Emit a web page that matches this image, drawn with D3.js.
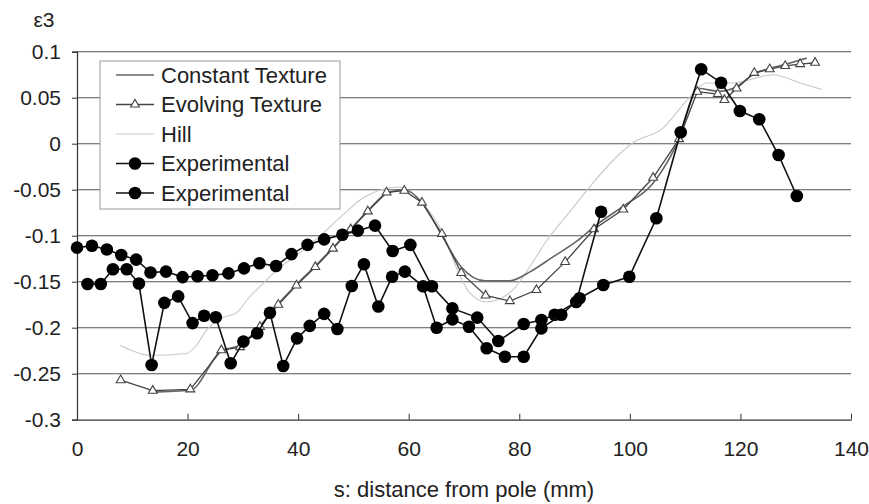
<!DOCTYPE html>
<html>
<head>
<meta charset="utf-8">
<script src="https://cdn.jsdelivr.net/npm/d3@7"></script>
<style>
  body { margin: 0; background: #fff; }
  svg { display: block; font-family: "Liberation Sans", Arial, sans-serif; }
</style>
</head>
<body>
<div class="container"></div>
<script>
// ===== DATA =====
var yTicks = [0.1, 0.05, 0, -0.05, -0.1, -0.15, -0.2, -0.25, -0.3];
var xTicks = [0, 20, 40, 60, 80, 100, 120, 140];
var seriesNames = ["Constant Texture", "Evolving Texture", "Hill", "Experimental", "Experimental"];

var constantS = [13.6, 20.5, 26.1, 29.5, 33.1, 36.4, 39.7, 43.1, 46.3, 49.5, 52.6, 56.0, 59.2, 62.4, 66.0, 69.5, 73.8, 78.3, 82.0, 86.1, 90.4, 94.0, 98.8, 104.2, 108.2, 112.5, 116.0, 119.3, 122.5, 125.5, 128.5, 132.0];
var constantE = [-0.270, -0.268, -0.225, -0.219, -0.198, -0.174, -0.153, -0.133, -0.113, -0.093, -0.073, -0.054, -0.050, -0.064, -0.100, -0.134, -0.149, -0.149, -0.139, -0.123, -0.106, -0.088, -0.068, -0.043, -0.004, 0.060, 0.057, 0.062, 0.076, 0.082, 0.087, 0.093];

var evolvingS = [7.9, 13.7, 20.5, 26.1, 29.5, 33.1, 36.4, 39.7, 43.1, 46.3, 49.5, 52.6, 56.0, 59.2, 62.4, 66.0, 69.5, 73.9, 78.3, 83.1, 88.3, 93.5, 98.8, 104.2, 108.9, 112.2, 115.9, 117.1, 119.3, 122.5, 125.3, 128.1, 130.8, 133.5];
var evolvingE = [-0.257, -0.2685, -0.267, -0.2245, -0.221, -0.199, -0.175, -0.154, -0.134, -0.114, -0.093, -0.0735, -0.053, -0.051, -0.064, -0.098, -0.1405, -0.165, -0.171, -0.159, -0.1285, -0.093, -0.0715, -0.037, 0.005, 0.0565, 0.054, 0.0475, 0.060, 0.077, 0.081, 0.0845, 0.0866, 0.088];

var hillS = [7.8, 10.0, 13.2, 19.8, 21.5, 23.4, 26.0, 29.0, 31.0, 34.0, 36.0, 40.0, 44.0, 48.0, 52.0, 55.0, 58.0, 61.0, 63.0, 66.0, 69.0, 71.0, 74.0, 77.0, 79.0, 82.0, 85.0, 89.0, 93.0, 97.0, 100.3, 106.0, 110.6, 113.8, 118.7, 125.9, 130.8, 134.7];
var hillE = [-0.219, -0.225, -0.230, -0.228, -0.220, -0.203, -0.190, -0.183, -0.168, -0.150, -0.138, -0.120, -0.100, -0.078, -0.058, -0.050, -0.047, -0.055, -0.068, -0.095, -0.140, -0.162, -0.172, -0.167, -0.158, -0.133, -0.105, -0.075, -0.045, -0.018, 0.000, 0.017, 0.049, 0.066, 0.066, 0.075, 0.066, 0.059];

var exp1S = [0.0, 2.7, 5.4, 8.0, 10.7, 13.3, 16.1, 19.1, 21.8, 24.5, 27.4, 30.2, 33.0, 36.0, 38.8, 41.7, 44.7, 48.0, 50.8, 53.9, 57.1, 60.3, 64.2, 67.9, 72.4, 76.2, 80.8, 84.0, 86.4, 90.3, 94.8];
var exp1E = [-0.113, -0.111, -0.115, -0.121, -0.126, -0.140, -0.139, -0.145, -0.144, -0.143, -0.141, -0.1355, -0.130, -0.133, -0.120, -0.110, -0.104, -0.099, -0.0945, -0.089, -0.1166, -0.110, -0.155, -0.179, -0.189, -0.2145, -0.196, -0.1916, -0.186, -0.172, -0.074];

var exp2S = [1.9, 4.3, 6.5, 9.0, 11.2, 13.5, 15.8, 18.3, 20.9, 23.0, 25.1, 27.8, 30.1, 32.6, 34.9, 37.3, 39.8, 42.1, 44.7, 47.1, 49.7, 51.9, 54.5, 57.0, 59.3, 62.6, 65.05, 67.9, 70.9, 74.1, 77.4, 80.8, 84.0, 87.6, 90.9, 95.2, 99.9, 104.8, 109.2, 112.9, 116.5, 119.9, 123.4, 126.9, 130.2];
var exp2E = [-0.1525, -0.1525, -0.1365, -0.1365, -0.152, -0.2405, -0.173, -0.166, -0.195, -0.187, -0.1887, -0.2387, -0.215, -0.206, -0.1837, -0.2416, -0.2116, -0.198, -0.185, -0.2014, -0.1547, -0.131, -0.177, -0.1446, -0.139, -0.155, -0.200, -0.191, -0.199, -0.2224, -0.2315, -0.2315, -0.2007, -0.186, -0.168, -0.1536, -0.1446, -0.081, 0.0124, 0.081, 0.0663, 0.0355, 0.0265, -0.0123, -0.0568];

function zip(s, e) { return s.map(function(v, i) { return {s: v, e: e[i]}; }); }

// ===== SET UP CHART =====
var W = 869, H = 504;
var margin = {top: 51.7, right: 18, bottom: 84.3, left: 77},
    width = W - margin.left - margin.right,
    height = H - margin.top - margin.bottom;

var svg = d3.select('.container')
  .append('svg')
  .attr('width', W)
  .attr('height', H);

var g = svg.append('g')
  .attr('transform', 'translate(' + margin.left + ',' + margin.top + ')');

var xScale = d3.scaleLinear().domain([0, 140]).range([0, width]);
var yScale = d3.scaleLinear().domain([-0.3, 0.1]).range([height, 0]);

// gridlines
g.append('g')
  .selectAll('line')
  .data(yTicks.filter(function(d) { return d > -0.3; }))
  .enter().append('line')
  .attr('x1', 0).attr('x2', width)
  .attr('y1', function(d) { return yScale(d); })
  .attr('y2', function(d) { return yScale(d); })
  .attr('stroke', '#555')
  .attr('stroke-width', 1.1);

// y axis
var yAxis = d3.axisLeft(yScale)
  .tickValues(yTicks)
  .tickSize(5)
  .tickPadding(11)
  .tickFormat(function(d) { return d === 0 ? '0' : String(+d.toFixed(2)); });

var yG = g.append('g').call(yAxis);
yG.select('.domain').attr('stroke', '#333').attr('stroke-width', 1.2);
yG.selectAll('.tick line').attr('stroke', '#333');
yG.selectAll('text').style('font-size', '21px').attr('fill', '#222');

// x axis
var xAxis = d3.axisBottom(xScale)
  .tickValues(xTicks)
  .tickSizeInner(-6)
  .tickSizeOuter(0)
  .tickPadding(21);

var xG = g.append('g')
  .attr('transform', 'translate(0,' + height + ')')
  .call(xAxis);
xG.select('.domain').attr('stroke', '#333').attr('stroke-width', 1.2);
xG.selectAll('.tick line').attr('stroke', '#333');
xG.selectAll('text').style('font-size', '21px').attr('fill', '#222');

// ===== LINES =====
var smooth = d3.line()
  .x(function(d) { return xScale(d.s); })
  .y(function(d) { return yScale(d.e); })
  .curve(d3.curveMonotoneX);

var straight = d3.line()
  .x(function(d) { return xScale(d.s); })
  .y(function(d) { return yScale(d.e); });

g.append('path')
  .datum(zip(hillS, hillE))
  .attr('d', smooth)
  .attr('fill', 'none')
  .attr('stroke', '#c8c8c8')
  .attr('stroke-width', 1.1);

g.append('path')
  .datum(zip(constantS, constantE))
  .attr('d', smooth)
  .attr('fill', 'none')
  .attr('stroke', '#666')
  .attr('stroke-width', 1.6);

g.append('path')
  .datum(zip(evolvingS, evolvingE))
  .attr('d', straight)
  .attr('fill', 'none')
  .attr('stroke', '#444')
  .attr('stroke-width', 1.3);

var tri = d3.symbol().type(d3.symbolTriangle).size(34);

g.append('g')
  .selectAll('path')
  .data(zip(evolvingS, evolvingE))
  .enter().append('path')
  .attr('d', tri)
  .attr('transform', function(d) { return 'translate(' + xScale(d.s) + ',' + yScale(d.e) + ')'; })
  .attr('fill', '#fff')
  .attr('stroke', '#444')
  .attr('stroke-width', 1.1);

[zip(exp1S, exp1E), zip(exp2S, exp2E)].forEach(function(data) {
  g.append('path')
    .datum(data)
    .attr('d', straight)
    .attr('fill', 'none')
    .attr('stroke', '#111')
    .attr('stroke-width', 1.6);

  g.append('g')
    .selectAll('circle')
    .data(data)
    .enter().append('circle')
    .attr('cx', function(d) { return xScale(d.s); })
    .attr('cy', function(d) { return yScale(d.e); })
    .attr('r', 6.3)
    .attr('fill', '#000');
});

// ===== LEGEND =====
var legend = svg.append('g').attr('transform', 'translate(100,61)');
legend.append('rect')
  .attr('width', 240).attr('height', 148)
  .attr('fill', '#fff')
  .attr('stroke', '#999')
  .attr('stroke-width', 1);

var items = legend.selectAll('g.item')
  .data(seriesNames)
  .enter().append('g')
  .attr('class', 'item')
  .attr('transform', function(d, i) { return 'translate(0,' + (14 + i * 29.5) + ')'; });

var legStroke = ['#666', '#444', '#c8c8c8', '#111', '#111'];
var legWidth = [1.6, 1.3, 1.1, 1.6, 1.6];

items.append('line')
  .attr('x1', 16).attr('x2', 54)
  .attr('stroke', function(d, i) { return legStroke[i]; })
  .attr('stroke-width', function(d, i) { return legWidth[i]; });

items.filter(function(d, i) { return i === 1; })
  .append('path')
  .attr('d', tri)
  .attr('transform', 'translate(35,0)')
  .attr('fill', '#fff')
  .attr('stroke', '#444')
  .attr('stroke-width', 1.1);

items.filter(function(d, i) { return i >= 3; })
  .append('circle')
  .attr('cx', 35).attr('r', 6.3)
  .attr('fill', '#000');

items.append('text')
  .attr('x', 61)
  .attr('dy', '0.35em')
  .style('font-size', '22px')
  .attr('fill', '#222')
  .text(function(d) { return d; });

// ===== LABELS =====
svg.append('text')
  .attr('x', 44).attr('y', 27)
  .attr('text-anchor', 'middle')
  .style('font-size', '21px')
  .attr('fill', '#222')
  .text('ε3');

svg.append('text')
  .attr('x', margin.left + width / 2).attr('y', 497)
  .attr('text-anchor', 'middle')
  .style('font-size', '22px')
  .attr('fill', '#222')
  .text('s: distance from pole (mm)');
</script>
</body>
</html>
